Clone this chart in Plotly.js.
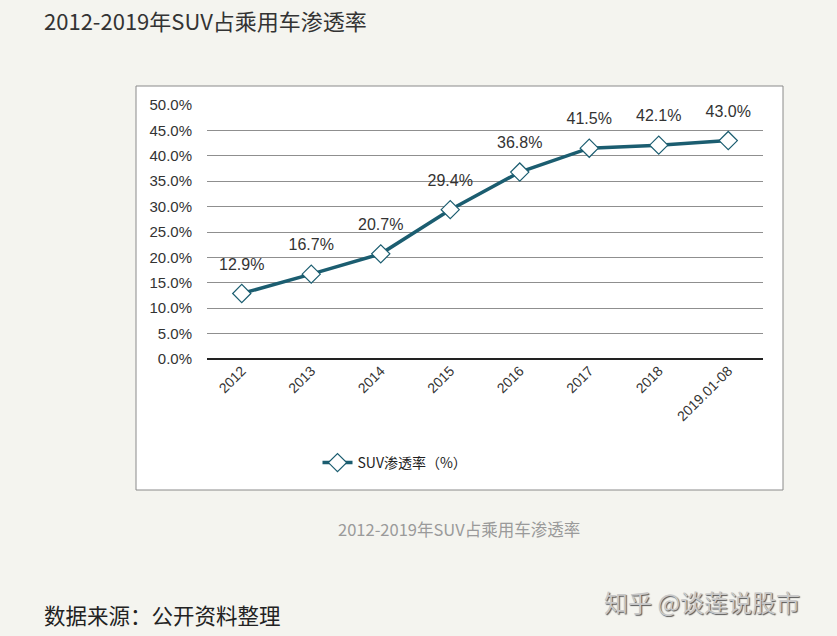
<!DOCTYPE html>
<html>
<head>
<meta charset="utf-8">
<script src="https://cdn.plot.ly/plotly-3.0.1.min.js"></script>
<style>
  body { margin: 0; background: #f4f4ef; }
  #chart { width: 837px; height: 636px; }
</style>
</head>
<body>
<div id="chart"></div>
<script>
// 数据
const years = ['2012', '2013', '2014', '2015', '2016', '2017', '2018', '2019.01-08'];
const suvRate = [12.9, 16.7, 20.7, 29.4, 36.8, 41.5, 42.1, 43.0];
const seriesName = 'SUV渗透率（%）';
const yTicks = [0, 5, 10, 15, 20, 25, 30, 35, 40, 45, 50];

const W = 837, H = 636;
const px = x => x / W;
const py = y => (H - y) / H;

const lineTrace = {
  x: years,
  y: suvRate,
  name: seriesName,
  type: 'scatter',
  mode: 'lines+markers',
  line: { color: '#1b5d70', width: 3.5 },
  marker: { symbol: 'diamond', size: 14, color: '#ffffff', line: { color: '#1b5d70', width: 1.2 } },
  cliponaxis: false
};

// 数据标签（用透明大标记把文字抬高一点）
const labelTrace = {
  x: years,
  y: suvRate,
  type: 'scatter',
  mode: 'markers+text',
  showlegend: false,
  hoverinfo: 'skip',
  text: suvRate.map(v => v.toFixed(1) + '%'),
  textposition: 'top center',
  textfont: { family: 'Liberation Sans, Arial, sans-serif', size: 16, color: '#333' },
  marker: { size: 30, opacity: 0 },
  cliponaxis: false
};

const layout = {
  width: W,
  height: H,
  margin: { l: 0, r: 0, t: 0, b: 0 },
  paper_bgcolor: '#f4f4ef',
  plot_bgcolor: 'rgba(0,0,0,0)',
  showlegend: true,
  legend: {
    x: px(395), y: py(463), xanchor: 'center', yanchor: 'middle',
    orientation: 'h',
    bgcolor: 'rgba(0,0,0,0)',
    font: { family: 'Noto Sans CJK SC, sans-serif', size: 14, color: '#222' }
  },
  xaxis: {
    domain: [px(207), px(763)],
    type: 'category',
    range: [-0.5, 7.5],
    tickangle: -45,
    tickfont: { family: 'Liberation Sans, Arial, sans-serif', size: 14, color: '#333' },
    showgrid: false,
    showline: false,
    ticks: '',
    zeroline: false,
    fixedrange: true
  },
  yaxis: {
    domain: [py(359), py(105)],
    range: [0, 50],
    tickvals: yTicks,
    ticktext: yTicks.map(v => v.toFixed(1) + '%'),
    tickfont: { family: 'Liberation Sans, Arial, sans-serif', size: 15, color: '#333' },
    showgrid: true,
    gridcolor: '#8f8f8f',
    gridwidth: 1,
    zeroline: true,
    zerolinecolor: '#222',
    zerolinewidth: 1.5,
    ticks: '',
    ticklabelstandoff: 14,
    fixedrange: true
  },
  shapes: [{
    type: 'rect', xref: 'paper', yref: 'paper',
    x0: px(136), x1: px(783), y0: py(490), y1: py(86),
    fillcolor: '#ffffff',
    line: { color: '#8a8a8a', width: 1 },
    layer: 'below'
  }],
  annotations: [
    {
      text: '2012-2019年SUV占乘用车渗透率',
      xref: 'paper', yref: 'paper', x: px(42), y: py(20),
      xanchor: 'left', yanchor: 'middle', showarrow: false,
      font: { family: 'Noto Sans CJK SC, sans-serif', size: 22, color: '#333' }
    },
    {
      text: '2012-2019年SUV占乘用车渗透率',
      xref: 'paper', yref: 'paper', x: px(459), y: py(529),
      xanchor: 'center', yanchor: 'middle', showarrow: false,
      font: { family: 'Noto Sans CJK SC, sans-serif', size: 16.5, color: '#9a9a9a' }
    },
    {
      text: '数据来源：公开资料整理',
      xref: 'paper', yref: 'paper', x: px(42), y: py(614),
      xanchor: 'left', yanchor: 'middle', showarrow: false,
      font: { family: 'Noto Sans CJK SC, sans-serif', size: 21.5, color: '#222' }
    },
    {
      text: '知乎 @谈莲说股市',
      xref: 'paper', yref: 'paper', x: px(802), y: py(601),
      xanchor: 'right', yanchor: 'middle', showarrow: false,
      font: { family: 'Noto Sans CJK SC, sans-serif', size: 24, color: '#c8c8c8', shadow: '1px 1px 1px #555' }
    }
  ]
};

Plotly.newPlot('chart', [lineTrace, labelTrace], layout, { displayModeBar: false, staticPlot: true });
</script>
</body>
</html>
